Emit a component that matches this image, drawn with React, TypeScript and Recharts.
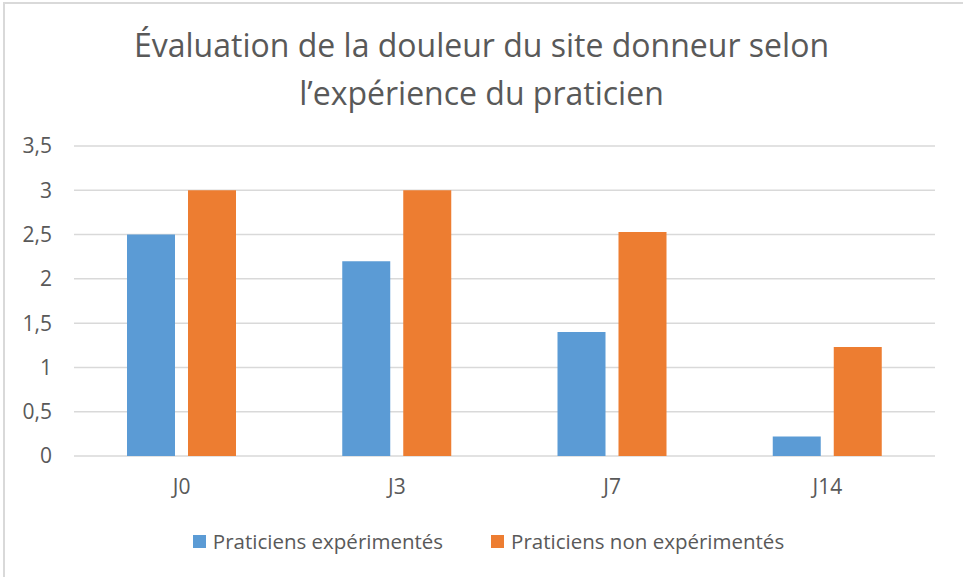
import React from "react";
import { BarChart, Bar, XAxis, YAxis, CartesianGrid } from "recharts";

const days = ["J0", "J3", "J7", "J14"];
const experimentes = [2.5, 2.2, 1.4, 0.22];
const nonExperimentes = [3, 3, 2.53, 1.23];
const yTicks = [0, 0.5, 1, 1.5, 2, 2.5, 3, 3.5];
const seriesNames = ["Praticiens expérimentés", "Praticiens non expérimentés"];

const blue = "#5b9bd5";
const orange = "#ed7d31";
const textColor = "#595959";
const gridColor = "#d9d9d9";
const font = "'Open Sans', sans-serif";

const data = days.map((name, i) => ({
  name,
  exp: experimentes[i],
  nonExp: nonExperimentes[i],
}));

const formatTick = (v: number) => String(v).replace(".", ",");

const ChartLegend = () => {
  const colors = [blue, orange];
  return (
    <div
      style={{
        position: "absolute",
        top: 527,
        left: 7,
        width: 963,
        display: "flex",
        justifyContent: "center",
        gap: 48,
        fontFamily: font,
        fontSize: 20.5,
        lineHeight: "28px",
        color: textColor,
      }}
    >
      {seriesNames.map((label, i) => (
        <div key={label} style={{ display: "flex", alignItems: "center" }}>
          <span
            style={{
              display: "inline-block",
              width: 13,
              height: 13,
              background: colors[i],
              marginRight: 7,
            }}
          />
          <span>{label}</span>
        </div>
      ))}
    </div>
  );
};

export default function App() {
  return (
    <div
      style={{
        position: "absolute",
        top: 0,
        left: 0,
        width: 963,
        height: 577,
        overflow: "hidden",
        background: "#fff",
      }}
    >
      <div
        style={{
          position: "absolute",
          left: 3,
          top: 2,
          width: 980,
          height: 600,
          border: `2px solid ${gridColor}`,
        }}
      />
      <div
        style={{
          position: "absolute",
          top: 21,
          left: 0,
          width: 963,
          textAlign: "center",
          fontFamily: font,
          fontSize: 32,
          lineHeight: "48px",
          color: textColor,
        }}
      >
        Évaluation de la douleur du site donneur selon
        <br />
        l’expérience du praticien
      </div>
      <BarChart
        width={963}
        height={577}
        data={data}
        margin={{ top: 146, right: 28, bottom: 91, left: 14 }}
        barSize={48}
        barGap={13}
        style={{ position: "absolute", top: 0, left: 0 }}
      >
        <CartesianGrid vertical={false} stroke={gridColor} strokeWidth={1.5} />
        <XAxis
          dataKey="name"
          axisLine={false}
          tickLine={false}
          tickSize={0}
          tickMargin={23}
          height={30}
          tick={{ fill: textColor, fontSize: 21, fontFamily: font }}
        />
        <YAxis
          width={60}
          domain={[0, 3.5]}
          ticks={yTicks}
          interval={0}
          tickFormatter={formatTick}
          axisLine={false}
          tickLine={false}
          tickSize={0}
          tickMargin={22}
          tick={{ fill: textColor, fontSize: 21, fontFamily: font }}
        />
        <Bar dataKey="exp" fill={blue} isAnimationActive={false} />
        <Bar dataKey="nonExp" fill={orange} isAnimationActive={false} />
      </BarChart>
      <ChartLegend />
    </div>
  );
}
